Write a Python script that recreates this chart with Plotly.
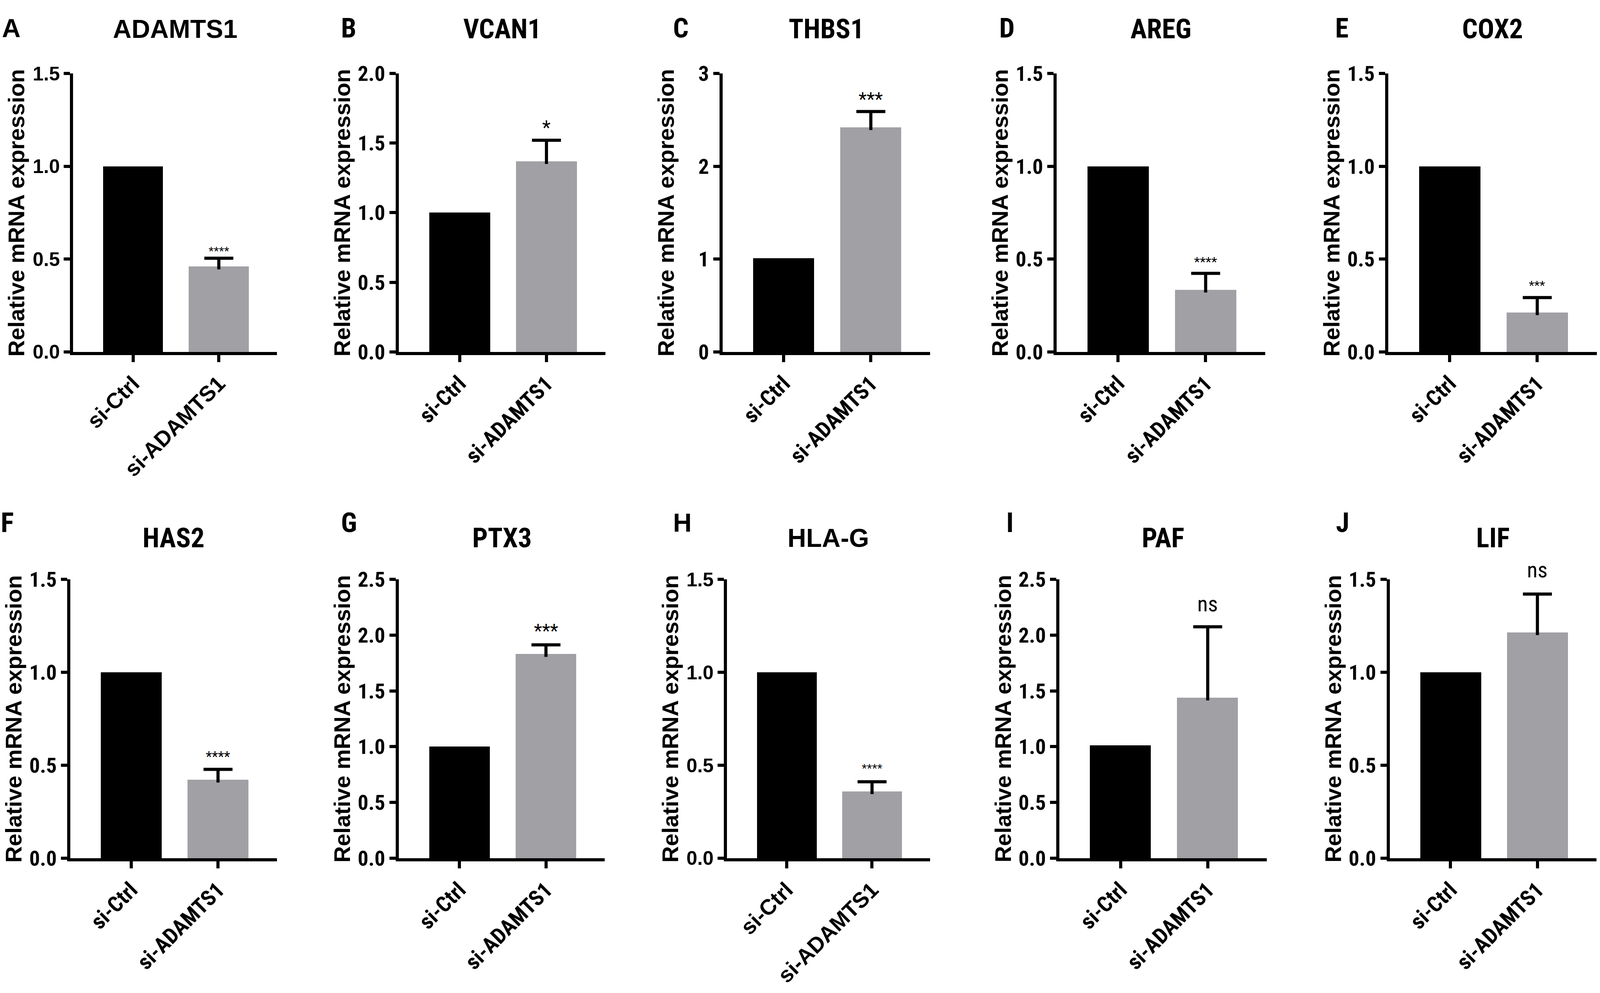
import plotly.graph_objects as go

groups = ["si-Ctrl", "si-ADAMTS1"]

genes = ["ADAMTS1", "VCAN1", "THBS1", "AREG", "COX2",
         "HAS2", "PTX3", "HLA-G", "PAF", "LIF"]
letters = ["A", "B", "C", "D", "E", "F", "G", "H", "I", "J"]

ctrl_mean = [1.0, 1.0, 1.01, 1.0, 1.0, 1.0, 1.0, 1.0, 1.01, 1.0]
si_mean = [0.46, 1.37, 2.42, 0.335, 0.213, 0.422, 1.83, 0.36, 1.44, 1.215]
si_err = [0.045, 0.15, 0.17, 0.088, 0.08, 0.056, 0.083, 0.051, 0.635, 0.206]
signif = ["****", "*", "***", "****", "***", "****", "***", "****", "ns", "ns"]

y_max = [1.5, 2.0, 3, 1.5, 1.5, 1.5, 2.5, 1.5, 2.5, 1.5]
y_dtick = [0.5, 0.5, 1, 0.5, 0.5, 0.5, 0.5, 0.5, 0.5, 0.5]
y_format = [".1f", ".1f", ".0f", ".1f", ".1f", ".1f", ".1f", ".1f", ".1f", ".1f"]

# positions measured on the 4550x2542 original, turned into paper fractions
REF_W, REF_H = 4550, 2542
# the browser viewport is only 4096 px wide, so the figure fills that
FIG_W, FIG_H = 4096, 2542

row_top = [161, 1489]
row_bottom = [892, 2221]
ax_left = [208, 1134, 2055, 3005, 3948, 200, 1134, 2067, 3013, 3952]
ax_right = [788, 1722, 2645, 3598, 4541, 788, 1720, 2645, 3603, 4540]
letter_x = [3, 967, 1912, 2839, 3795, 0, 967, 1912, 2859, 3797]
title_y = [44, 1380]
letter_y = [42, 1340]
narrow = [False, True, True, True, True, True, True, False, True, True]
star_size = [34, 50, 48, 34, 32, 36, 48, 34, 56, 56]
star_shift = [18, 32, 32, 30, 32, 32, 36, 34, 58, 62]

BLACK = "#000000"
GRAY = "#a1a0a5"
WIDE = "Liberation Sans, Arial, sans-serif"
NARROW = "Roboto Condensed, DejaVu Sans Condensed, Liberation Sans, sans-serif"

fig = go.Figure()
annotations = []

for i in range(10):
    row = i // 5
    sfx = "" if i == 0 else str(i + 1)
    xa, ya = "x" + sfx, "y" + sfx
    fam = NARROW if narrow[i] else WIDE
    ytick_size = 54 if narrow[i] else 50

    fig.add_trace(go.Bar(
        x=groups, y=[ctrl_mean[i], si_mean[i]],
        marker=dict(color=[BLACK, GRAY], line=dict(width=0)),
        width=0.7, xaxis=xa, yaxis=ya, showlegend=False,
    ))
    # error bar: stem (upper half only) and cap
    top = si_mean[i] + si_err[i]
    fig.add_trace(go.Scatter(
        x=[groups[1], groups[1]], y=[si_mean[i] - y_max[i] * 0.01, top],
        mode="lines", line=dict(color=BLACK, width=8),
        xaxis=xa, yaxis=ya, showlegend=False, hoverinfo="skip",
    ))
    fig.add_trace(go.Scatter(
        x=[groups[1]], y=[top], mode="markers",
        marker=dict(symbol="line-ew-open", size=53, color=BLACK, line=dict(width=8, color=BLACK)),
        xaxis=xa, yaxis=ya, showlegend=False, hoverinfo="skip",
    ))

    x_dom = [ax_left[i] / REF_W, ax_right[i] / REF_W]
    y_dom = [1 - row_bottom[row] / REF_H, 1 - row_top[row] / REF_H]

    fig.update_layout(**{
        "xaxis" + sfx: dict(
            domain=x_dom, anchor=ya, range=[-0.70, 1.68],
            showline=True, linecolor=BLACK, linewidth=8,
            ticks="outside", ticklen=18, tickwidth=8, tickcolor=BLACK,
            tickangle=-45, showgrid=False, zeroline=False,
            tickfont=dict(family=fam, size=56, color=BLACK, weight="bold"),
        ),
        "yaxis" + sfx: dict(
            domain=y_dom, anchor=xa, range=[0, y_max[i]],
            dtick=y_dtick[i], tick0=0, tickformat=y_format[i],
            showline=True, linecolor=BLACK, linewidth=8,
            ticks="outside", ticklen=16, tickwidth=8, tickcolor=BLACK,
            showgrid=False, zeroline=False,
            tickfont=dict(family=fam, size=ytick_size, color=BLACK, weight="bold"),
        ),
    })

    mid_x = (ax_left[i] + ax_right[i]) / 2
    annotations.append(dict(
        text=genes[i], x=mid_x / REF_W, y=1 - title_y[row] / REF_H, xref="paper", yref="paper",
        xanchor="center", yanchor="middle", showarrow=False,
        font=dict(family=fam, size=70 if narrow[i] else 66, color=BLACK, weight="bold"),
    ))
    annotations.append(dict(
        text=letters[i], x=letter_x[i] / REF_W, y=1 - letter_y[row] / REF_H, xref="paper", yref="paper",
        xanchor="left", yanchor="middle", showarrow=False,
        font=dict(family=fam, size=70 if narrow[i] else 66, color=BLACK, weight="bold"),
    ))
    annotations.append(dict(
        text="Relative mRNA expression", textangle=-90,
        x=(ax_left[i] - 162) / REF_W, y=(y_dom[0] + y_dom[1]) / 2, xref="paper", yref="paper",
        xanchor="center", yanchor="middle", showarrow=False,
        font=dict(family=WIDE, size=58, color=BLACK, weight="bold"),
    ))
    annotations.append(dict(
        text=signif[i], x=groups[1], y=top, xref=xa, yref=ya,
        xanchor="center", yanchor="middle", yshift=star_shift[i], showarrow=False,
        font=dict(family=fam, size=star_size[i], color=BLACK),
    ))

fig.update_layout(
    width=FIG_W, height=FIG_H,
    margin=dict(l=0, r=0, t=0, b=0),
    paper_bgcolor="white", plot_bgcolor="white",
    bargap=0, annotations=annotations, showlegend=False,
)

# drop the default body margin so the figure sits exactly in the viewport
fig.write_html(
    "out.html",
    config={"displayModeBar": False},
    post_script="document.body.style.margin='0';document.body.style.overflow='hidden';",
)
